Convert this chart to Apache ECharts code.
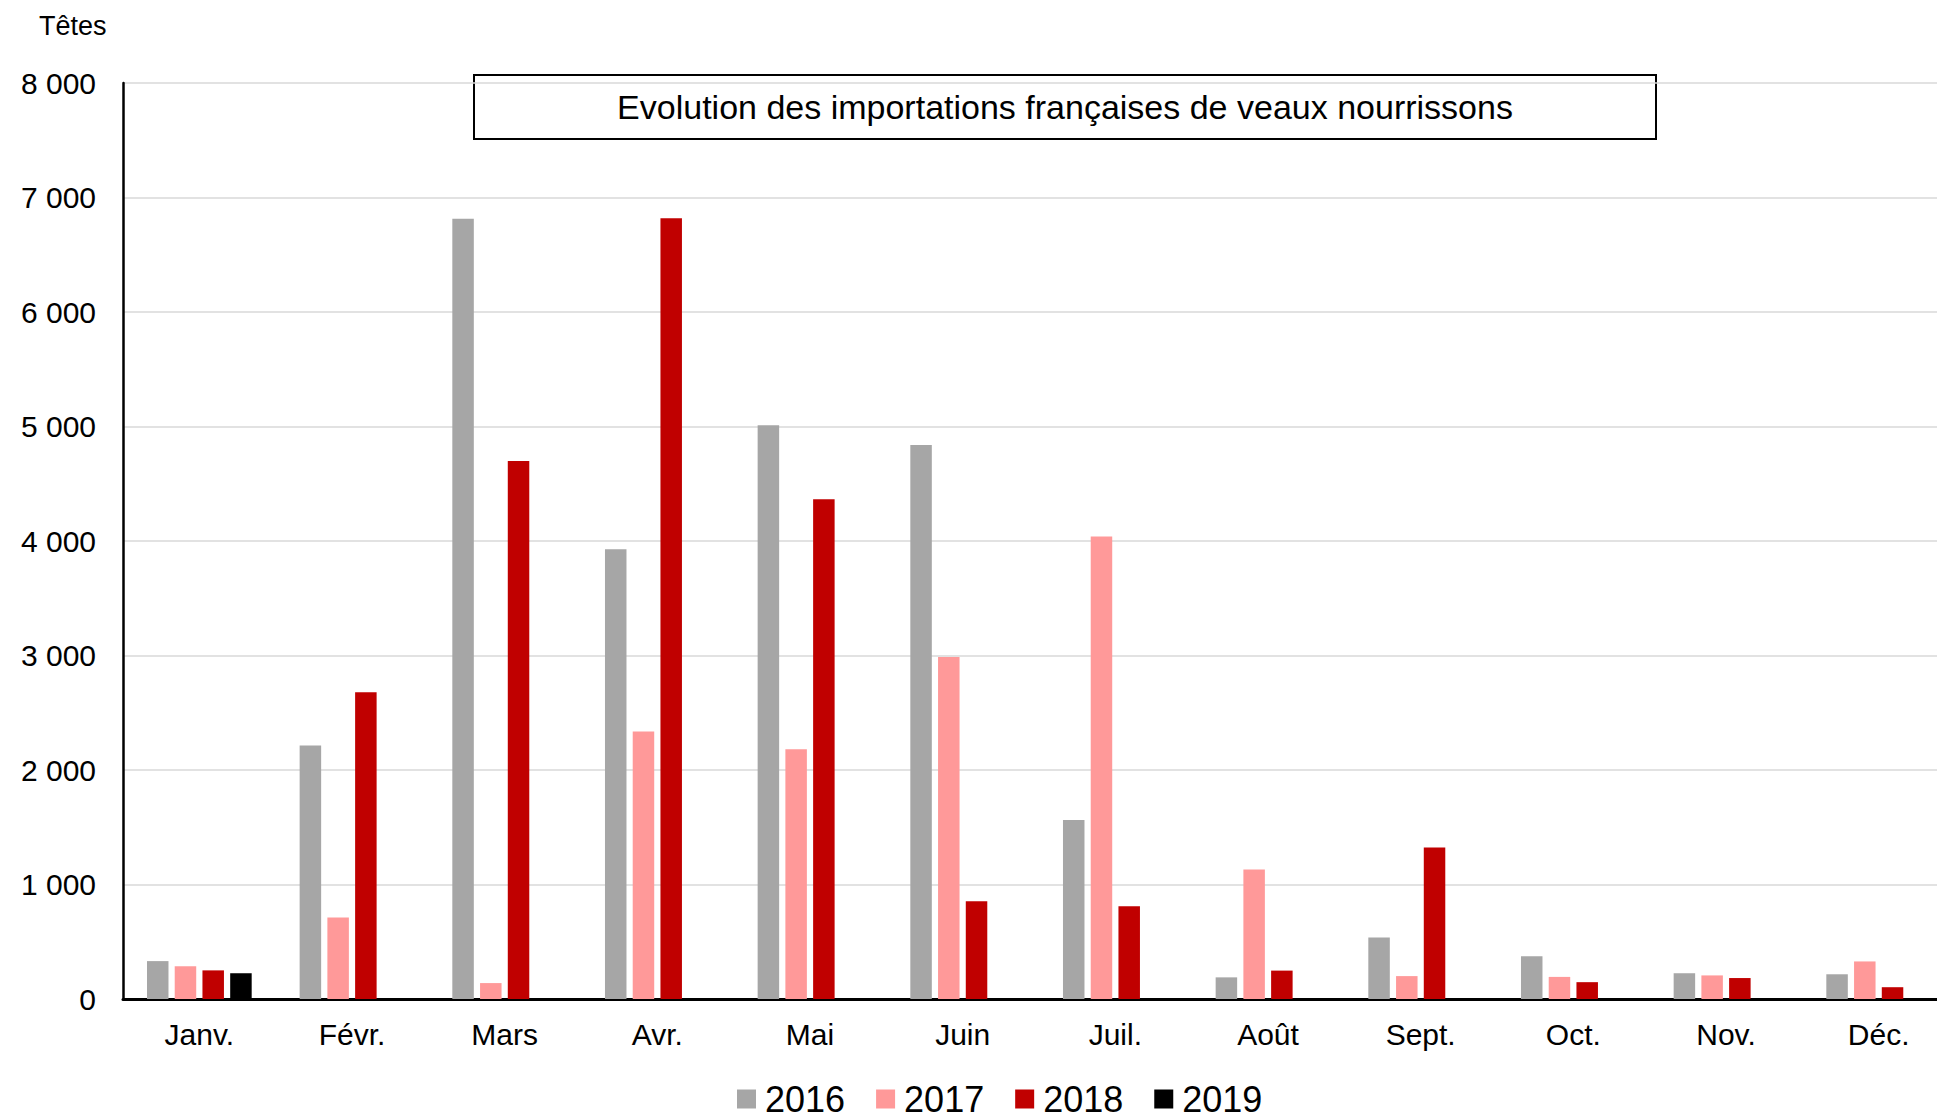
<!DOCTYPE html>
<html>
<head>
<meta charset="utf-8">
<script src="https://cdn.jsdelivr.net/npm/echarts@6/dist/echarts.min.js"></script>
<style>html,body{margin:0;padding:0;background:#fff;overflow:hidden;width:1937px;height:1118px}#c{width:1960px;height:1118px}</style>
</head>
<body>
<div id="c"></div>
<script>
const months = ['Janv.', 'Févr.', 'Mars', 'Avr.', 'Mai', 'Juin', 'Juil.', 'Août', 'Sept.', 'Oct.', 'Nov.', 'Déc.'];
const years = ['2016', '2017', '2018', '2019'];
const v2016 = [331, 2214, 6815, 3929, 5011, 4838, 1563, 189, 538, 374, 225, 216];
const v2017 = [286, 711, 139, 2336, 2182, 2987, 4040, 1132, 200, 193, 206, 328];
const v2018 = [250, 2680, 4698, 6818, 4364, 853, 811, 248, 1323, 147, 183, 103];
const v2019 = [225, null, null, null, null, null, null, null, null, null, null, null];
const colors = ['#A6A6A6', '#FF9999', '#C00000', '#000000'];
const unitLabel = 'Têtes';
const chartTitle = 'Evolution des importations françaises de veaux nourrissons';

const FONT = 'Liberation Sans, Arial, sans-serif';
const fmt = v => String(v).replace(/\B(?=(\d{3})+(?!\d))/g, ' ');
const seriesData = [v2016, v2017, v2018, v2019];

const chart = echarts.init(document.getElementById('c'), null, {renderer: 'svg'});
chart.setOption({
  animation: false,
  color: colors,
  grid: {left: 123, top: 83, width: 1832, height: 916, containLabel: false},
  legend: {
    data: years,
    left: 737, top: 1081, padding: 0,
    icon: 'rect', itemWidth: 19, itemHeight: 19, itemGap: 31,
    textStyle: {fontFamily: FONT, fontSize: 36, lineHeight: 32, color: '#000', padding: [0, 0, 0, 4]}
  },
  xAxis: {
    type: 'category', data: months,
    axisLine: {lineStyle: {color: '#000', width: 3}},
    axisTick: {show: false},
    axisLabel: {fontFamily: FONT, fontSize: 30, color: '#000', margin: 20}
  },
  yAxis: {
    type: 'value', min: 0, max: 8000, interval: 1000,
    axisLine: {show: true, lineStyle: {color: '#000', width: 2.5}},
    axisTick: {show: false},
    splitLine: {lineStyle: {color: '#D9D9D9', width: 1.5}},
    axisLabel: {fontFamily: FONT, fontSize: 30, color: '#000', margin: 27, formatter: fmt}
  },
  series: years.map((y, i) => ({
    name: y, type: 'bar', data: seriesData[i],
    barWidth: 21.5, barGap: '29%',
    itemStyle: {color: colors[i]}
  })),
  graphic: [
    {
      type: 'text', left: 39, top: 12, z: 10,
      style: {text: unitLabel, fontFamily: FONT, fontSize: 27, fill: '#000'}
    },
    {
      type: 'group', left: 473, top: 74, z: 10,
      children: [
        {type: 'rect', shape: {x: 0, y: 0, width: 1182, height: 64},
         style: {fill: '#fff', stroke: '#000', lineWidth: 2}},
        {type: 'text', x: 591, y: 32,
         style: {text: chartTitle, fontFamily: FONT, fontSize: 34, fill: '#000', align: 'center', verticalAlign: 'middle'}}
      ]
    }
  ]
});
</script>
</body>
</html>
